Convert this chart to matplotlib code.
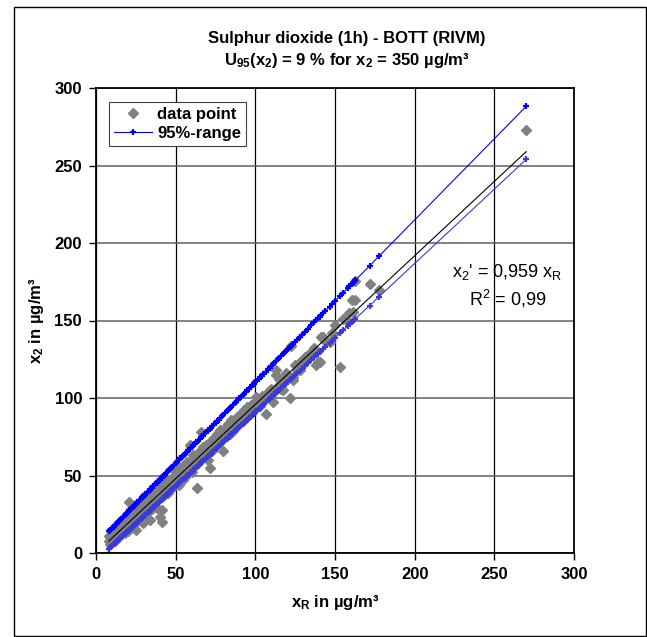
import matplotlib
matplotlib.use("Agg")
import matplotlib.pyplot as plt
import numpy as np
from matplotlib.patches import Rectangle

plt.rcParams['font.family'] = ['Liberation Sans', 'DejaVu Sans']
plt.rcParams['mathtext.fontset'] = 'custom'
plt.rcParams['mathtext.rm'] = 'Liberation Sans'
plt.rcParams['mathtext.it'] = 'Liberation Sans'
plt.rcParams['mathtext.bf'] = 'Liberation Sans:bold'

x_ref = [8, 8, 9, 9, 10, 10, 11, 11, 12, 12, 13, 13, 14, 14, 15, 15, 16, 16, 17, 17,
         18, 18, 19, 19, 20, 20, 20, 21, 21, 21, 22, 22, 23, 23, 24, 24, 25, 25, 25, 26,
         26, 27, 27, 28, 28, 29.6, 29, 30, 30, 30, 31, 31, 32, 32, 33, 33, 33.8, 34, 35, 35,
         36, 36, 37, 37, 38, 38, 38, 39, 39, 40.1, 40, 40, 41.2, 41.2, 42, 42, 42, 43, 43, 44,
         44, 45, 45, 45, 46, 46, 47, 47, 48, 48, 49, 49, 50, 50, 50, 51, 51, 52, 52, 53,
         53, 54.7, 54, 55, 55, 56, 56, 57, 57, 58, 58.9, 58, 60, 60, 61, 62, 63.1, 63, 64, 65,
         66.2, 66, 67, 68, 69, 70.4, 70, 71.4, 72, 73, 74, 75, 76, 77, 78, 79, 80, 81, 82, 83,
         84, 85, 86, 87, 88, 89, 90, 91, 92, 93, 94, 95, 96, 97, 98, 99,
         100, 100.7, 102, 103, 104, 105, 106.5, 108, 109, 110, 111.1, 112, 113.2, 113.2, 114, 115, 116, 117.4, 118, 119,
         120, 121.6, 122.6, 123.6, 123.6, 125, 126, 127.8, 127.8, 129, 131, 133, 135, 137, 138.3, 139.3, 140.4, 141.4, 142.4, 144,
         146.6, 148, 150, 152.9, 155, 158, 159.1, 160.8, 161.2, 162.3, 162.7, 171.7, 177.7, 270]
x_2 = [7.5, 11.0, 6.0, 10.5, 12.0, 8.0, 9.5, 14.0, 11.0, 7.5, 15.5, 12.0, 10.0, 13.5, 17.0, 14.0, 12.5, 16.0, 19.5, 15.0,
       13.0, 18.5, 21.0, 16.0, 14.5, 19.0, 22.5, 18.0, 33.1, 24.0, 17.0, 22.0, 25.0, 20.5, 19.0, 26.5, 14.8, 24.0, 28.0, 22.5,
       29.0, 21.0, 26.0, 30.5, 25.0, 19.2, 28.0, 24.5, 31.5, 27.0, 33.0, 28.5, 26.0, 31.0, 35.0, 30.0, 21.3, 32.5, 28.5, 36.0,
       34.0, 31.0, 38.5, 35.5, 28.8, 33.5, 37.0, 40.5, 36.0, 23.4, 38.0, 42.0, 27.7, 20.2, 40.0, 44.0, 36.5, 42.5, 38.0, 45.5,
       41.0, 39.0, 43.5, 47.0, 44.0, 41.5, 48.0, 45.0, 42.0, 46.5, 50.0, 47.5, 44.5, 48.0, 52.0, 46.0, 53.5, 49.5, 44.0, 55.0,
       51.0, 47.1, 52.5, 50.0, 56.5, 54.0, 49.0, 58.5, 55.0, 51.5, 69.7, 56.0, 52.5, 60.0, 63.0, 56.5, 41.7, 61.5, 58.0, 66.0,
       78.3, 60.5, 68.5, 62.0, 70.0, 60.0, 64.5, 54.6, 72.5, 66.0, 74.0, 69.5, 77.0, 71.0, 79.5, 73.0, 66.0, 80.5, 75.5, 83.0,
       77.0, 85.5, 79.0, 86.0, 81.5, 88.5, 83.0, 90.0, 85.0, 92.5, 87.0, 94.0, 89.5, 95.5, 91.0, 97.0,
       93.0, 100.9, 97.0, 95.0, 101.0, 98.0, 89.5, 104.0, 100.0, 106.0, 97.6, 104.0, 118.0, 114.8, 108.0, 112.0, 106.0, 105.2, 113.0, 116.0,
       112.0, 99.8, 133.5, 111.6, 113.7, 121.0, 118.0, 118.0, 123.4, 124.0, 126.3, 126.7, 130.0, 132.0, 121.3, 123.4, 123.4, 139.5, 139.2, 137.0,
       136.3, 142.0, 147.0, 119.8, 151.0, 150.0, 154.6, 163.2, 155.7, 163.2, 175.7, 173.4, 169.7, 273.0]

slope = 0.959               # regression x2' = 0,959 xR
hi_slope, hi_icpt = 1.047, 5.5    # upper 95% limit
lo_slope, lo_icpt = 0.959, -5.0   # lower 95% limit

xs = np.sort(np.array(x_ref, dtype=float))

fig = plt.figure(figsize=(6.47, 6.37), dpi=100)
ax = fig.add_axes([96 / 647, 1 - 553 / 637, 478 / 647, 465 / 637])

ax.plot(x_ref, x_2, ls='', marker='D', ms=5.5, color='#808080', mec='#808080',
        label='data point', zorder=3)
ax.plot(xs, hi_slope * xs + hi_icpt, color='#0000ff', lw=0.8, marker='+', ms=4.5,
        mew=1.6, label='95%-range', zorder=4)
ax.plot(xs, lo_slope * xs + lo_icpt, color='#3a3ad8', lw=0.8, marker='+', ms=4.5,
        mew=1.6, zorder=4)
ax.plot([xs[0], xs[-1]], [slope * xs[0], slope * xs[-1]], color='black', lw=0.8, zorder=5)

ax.set_xlim(0, 300)
ax.set_ylim(0, 300)
ax.set_xticks(range(0, 301, 50))
ax.set_yticks(range(0, 301, 50))
ax.xaxis.grid(True, color='black', lw=0.9)
ax.yaxis.grid(True, color='#606060', lw=1.1)
ax.set_axisbelow(True)
for s in ax.spines.values():
    s.set_linewidth(1.3)
ax.tick_params(direction='out', length=5, width=1, labelsize=12, pad=5)
for lab in ax.get_xticklabels() + ax.get_yticklabels():
    lab.set_fontweight('bold')

ax.set_xlabel(r'$\mathbf{x_R}$ in µg/m³', fontsize=12, fontweight='bold', labelpad=8)
ax.set_ylabel(r'$\mathbf{x_2}$ in µg/m³', fontsize=12, fontweight='bold', labelpad=6)

fig.text(0.536, 1 - 38 / 637, 'Sulphur dioxide (1h) - BOTT (RIVM)', ha='center', va='center',
         fontsize=12, fontweight='bold')
fig.text(0.536, 1 - 60 / 637, r'$\mathbf{U_{95}(x_2)}$ = 9 % for $\mathbf{x_2}$ = 350 µg/m³',
         ha='center', va='center', fontsize=12, fontweight='bold')

ax.text(0.86, 0.605, r"x$_2$' = 0,959 x$_\mathrm{R}$", transform=ax.transAxes,
        ha='center', va='center', fontsize=13)
ax.text(0.862, 0.546, r"R$^2$ = 0,99", transform=ax.transAxes,
        ha='center', va='center', fontsize=13)

leg = ax.legend(loc='upper left', bbox_to_anchor=(0.02, 0.978), fancybox=False,
                edgecolor='#404040', framealpha=1, prop={'weight': 'bold', 'size': 12},
                handlelength=2.3, borderpad=0.3, labelspacing=0.25, handletextpad=0.3,
                borderaxespad=0.2)
leg.get_frame().set_linewidth(0.8)

fig.patches.append(Rectangle((13.5 / 647, 1 - 635.5 / 637), 632 / 647, 628.5 / 637,
                             transform=fig.transFigure, fill=False, lw=1, ec='black'))

fig.savefig('out.png', dpi=100)
